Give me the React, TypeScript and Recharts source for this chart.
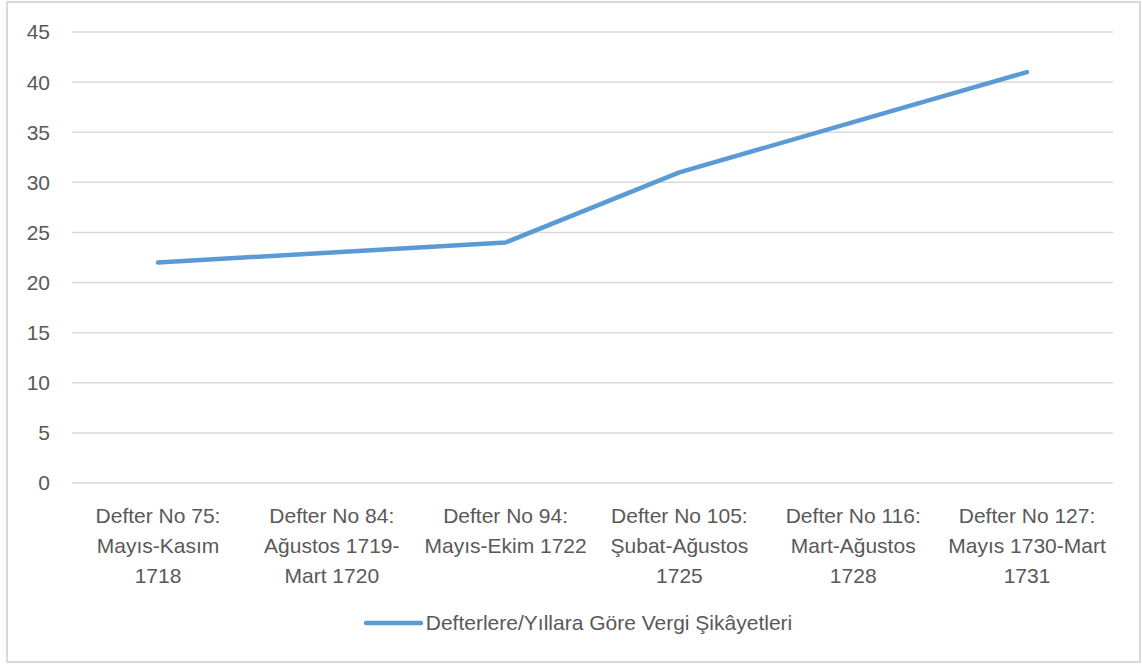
import { LineChart, Line, XAxis, YAxis, CartesianGrid, Legend } from "recharts"

const categories = [
  "Defter No 75:\nMayıs-Kasım\n1718",
  "Defter No 84:\nAğustos 1719-\nMart 1720",
  "Defter No 94:\nMayıs-Ekim 1722",
  "Defter No 105:\nŞubat-Ağustos\n1725",
  "Defter No 116:\nMart-Ağustos\n1728",
  "Defter No 127:\nMayıs 1730-Mart\n1731",
]
const complaints = [22, 23, 24, 31, 36, 41]
const yTicks = [0, 5, 10, 15, 20, 25, 30, 35, 40, 45]
const seriesName = "Defterlere/Yıllara Göre Vergi Şikâyetleri"

const data = categories.map((c, i) => ({ name: c, value: complaints[i] }))

const FONT = "'Liberation Sans', Arial, sans-serif"
const TEXT = "#595959"
const BLUE = "#5B9BD5"
const FS = 21

function XTick(props: any) {
  const { x, y, payload } = props
  const lines = String(payload.value).split("\n")
  return (
    <g transform={`translate(${x},${y})`}>
      {lines.map((l: string, i: number) => (
        <text key={i} x={0} y={38 + i * 30} textAnchor="middle" fill={TEXT} fontSize={FS} fontFamily={FONT}>
          {l}
        </text>
      ))}
    </g>
  )
}

function LegendBox() {
  return (
    <div style={{ display: "flex", justifyContent: "center", alignItems: "center", height: 30, paddingLeft: 8 }}>
      <svg width={61} height={10} style={{ marginRight: 2 }}>
        <line x1={3} y1={5} x2={58} y2={5} stroke={BLUE} strokeWidth={4.5} strokeLinecap="round" />
      </svg>
      <span style={{ color: TEXT, fontSize: FS, fontFamily: FONT }}>{seriesName}</span>
    </div>
  )
}

export default function App() {
  return (
    <div
      style={{
        position: "absolute",
        left: 6,
        top: 1,
        width: 1135,
        height: 662,
        border: "2px solid #d9d9d9",
        boxSizing: "border-box",
        background: "#fff",
      }}
    >
      <LineChart width={1131} height={658} data={data} margin={{ top: 29, right: 26, left: 0, bottom: 23 }}>
        <CartesianGrid vertical={false} stroke="#d9d9d9" strokeWidth={1.5} />
        <XAxis
          dataKey="name"
          axisLine={false}
          tickLine={false}
          tickSize={0}
          height={125}
          interval={0}
          padding={{ left: 86, right: 86 }}
          tick={<XTick />}
        />
        <YAxis
          domain={[0, 45]}
          ticks={yTicks}
          axisLine={false}
          tickLine={false}
          tickSize={0}
          tickMargin={22}
          width={64}
          tick={{ fill: TEXT, fontSize: FS, fontFamily: FONT }}
        />
        <Legend verticalAlign="bottom" wrapperStyle={{ left: 0, width: 1131 }} content={<LegendBox />} />
        <Line
          type="linear"
          dataKey="value"
          name={seriesName}
          stroke={BLUE}
          strokeWidth={4.5}
          strokeLinecap="round"
          strokeLinejoin="round"
          dot={false}
          activeDot={false}
          isAnimationActive={false}
        />
      </LineChart>
    </div>
  )
}
